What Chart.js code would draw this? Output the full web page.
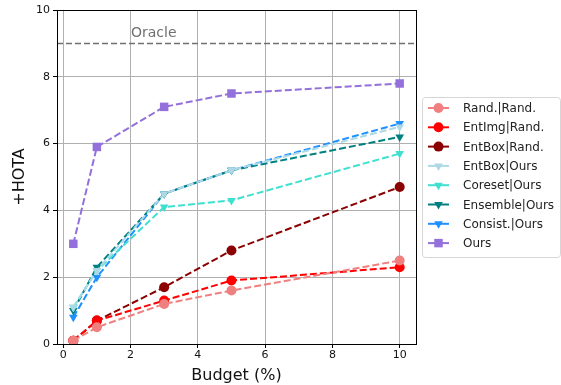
<!DOCTYPE html>
<html>
<head>
<meta charset="utf-8">
<script src="https://cdn.jsdelivr.net/npm/chart.js@4"></script>
<style>
  html, body { margin: 0; padding: 0; background: #fff; }
  #wrap { width: 561px; height: 385px; }
</style>
</head>
<body>
<div id="wrap"><canvas id="hotaChart" width="561" height="385"></canvas></div>
<script>
// datos
const budgets = [0.3, 1, 3, 5, 10];
const randRand = [0.1, 0.5, 1.2, 1.6, 2.5];
const entImgRand = [0.1, 0.7, 1.3, 1.9, 2.3];
const entBoxRand = [0.1, 0.7, 1.7, 2.8, 4.7];
const entBoxOurs = [1.1, 2.2, 4.5, 5.2, 6.5];
const coresetOurs = [1.1, 2.2, 4.1, 4.3, 5.7];
const ensembleOurs = [1.0, 2.3, 4.5, 5.2, 6.2];
const consistOurs = [0.8, 2.0, 4.5, 5.2, 6.6];
const ours = [3.0, 5.9, 7.1, 7.5, 7.8];
const oracle = 9;
const xTicks = [0, 2, 4, 6, 8, 10];
const yTicks = [0, 2, 4, 6, 8, 10];

const FONT = "'DejaVu Sans', sans-serif";

const series = [
  { label: "Rand.|Rand.", data: randRand, color: "#f08080", marker: "circle" },
  { label: "EntImg|Rand.", data: entImgRand, color: "#ff0000", marker: "circle" },
  { label: "EntBox|Rand.", data: entBoxRand, color: "#8b0000", marker: "circle" },
  { label: "EntBox|Ours", data: entBoxOurs, color: "#add8e6", marker: "triangle" },
  { label: "Coreset|Ours", data: coresetOurs, color: "#40e0d0", marker: "triangle" },
  { label: "Ensemble|Ours", data: ensembleOurs, color: "#008080", marker: "triangle" },
  { label: "Consist.|Ours", data: consistOurs, color: "#1e90ff", marker: "triangle" },
  { label: "Ours", data: ours, color: "#9370db", marker: "rect" },
];

const markerSize = (m) => (m === "rect" ? 6 : 5);

const datasets = series.map((s) => ({
  label: s.label,
  data: budgets.map((b, i) => ({ x: b, y: s.data[i] })),
  borderColor: s.color,
  backgroundColor: s.color,
  borderWidth: 2,
  borderDash: [7, 3],
  pointStyle: s.marker,
  pointRotation: s.marker === "triangle" ? 180 : 0,
  pointRadius: markerSize(s.marker),
  pointBorderWidth: 0,
  tension: 0,
  fill: false,
}));

// linea del oracle, marco y leyenda estilo matplotlib
const extras = {
  id: "extras",
  beforeDatasetsDraw(chart) {
    const { ctx, chartArea: a, scales } = chart;
    const y = scales.y.getPixelForValue(oracle);
    ctx.save();
    ctx.strokeStyle = "#707070";
    ctx.lineWidth = 1.5;
    ctx.setLineDash([6, 3]);
    ctx.beginPath();
    ctx.moveTo(a.left, y);
    ctx.lineTo(a.right, y);
    ctx.stroke();
    ctx.setLineDash([]);
    ctx.fillStyle = "#707070";
    ctx.font = "14px " + FONT;
    ctx.textBaseline = "alphabetic";
    ctx.fillText("Oracle", scales.x.getPixelForValue(2) + 0.5, scales.y.getPixelForValue(9.18));
    ctx.restore();
  },
  afterDraw(chart) {
    const { ctx, chartArea: a } = chart;
    ctx.save();
    ctx.strokeStyle = "#000";
    ctx.lineWidth = 1;
    ctx.strokeRect(a.left + 0.5, a.top + 0.5, a.right - a.left, a.bottom - a.top);

    // leyenda
    const lx = 422, ly = 97, lw = 138, lh = 160;
    ctx.fillStyle = "rgba(255,255,255,0.8)";
    ctx.strokeStyle = "#d6d6d6";
    ctx.beginPath();
    ctx.roundRect(lx + 0.5, ly + 0.5, lw, lh, 3);
    ctx.fill();
    ctx.stroke();
    ctx.font = "12px " + FONT;
    ctx.textBaseline = "middle";
    series.forEach((s, i) => {
      const yy = ly + 11 + i * 19.3;
      ctx.strokeStyle = s.color;
      ctx.lineWidth = 2;
      ctx.beginPath();
      ctx.moveTo(lx + 6, yy);
      ctx.lineTo(lx + 27, yy);
      ctx.stroke();
      ctx.fillStyle = s.color;
      Chart.helpers.drawPoint(ctx, {
        pointStyle: s.marker, radius: markerSize(s.marker), borderWidth: 0,
        rotation: s.marker === "triangle" ? 180 : 0,
      }, lx + 16.5, yy);
      ctx.fillStyle = "#222";
      ctx.fillText(s.label, lx + 41, yy + 1);
    });
    ctx.restore();
  },
};

const ctx = document.getElementById("hotaChart").getContext("2d");
new Chart(ctx, {
  type: "line",
  data: { datasets: datasets },
  options: {
    responsive: false,
    animation: false,
    layout: { padding: { top: 10, right: 145, left: 10, bottom: 0 } },
    plugins: {
      legend: { display: false },
      tooltip: { enabled: false },
    },
    scales: {
      x: {
        type: "linear",
        min: -0.185,
        max: 10.485,
        afterBuildTicks: (scale) => { scale.ticks = xTicks.map((v) => ({ value: v })); },
        afterFit: (scale) => { scale.height = 41; },
        ticks: { color: "#111", font: { family: FONT, size: 11 }, padding: 1, maxRotation: 0 },
        grid: { color: "#b0b0b0", lineWidth: 1, tickLength: 4, tickColor: "#000", drawOnChartArea: true },
        border: { display: false },
        title: { display: true, text: "Budget (%)", color: "#111", font: { family: FONT, size: 16 }, padding: { top: 0, bottom: 0 } },
      },
      y: {
        min: 0,
        max: 10,
        afterBuildTicks: (scale) => { scale.ticks = yTicks.map((v) => ({ value: v })); },
        afterFit: (scale) => { scale.width = 47; },
        ticks: { color: "#111", font: { family: FONT, size: 11 }, padding: 3 },
        grid: { color: "#b0b0b0", lineWidth: 1, tickLength: 4, tickColor: "#000" },
        border: { display: false },
        title: { display: true, text: "+HOTA", color: "#111", font: { family: FONT, size: 16 }, padding: { top: 0, bottom: 4 } },
      },
    },
  },
  plugins: [extras],
});
</script>
</body>
</html>
